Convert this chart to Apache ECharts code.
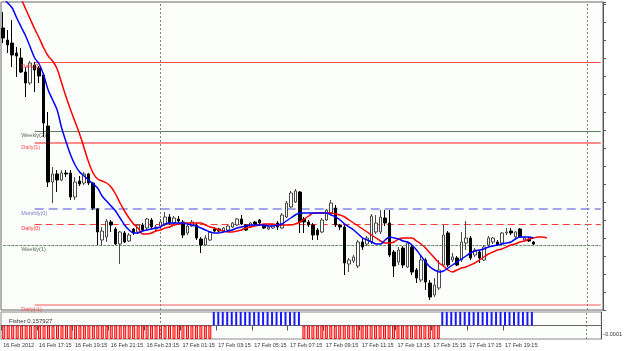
<!DOCTYPE html>
<html>
<head>
<meta charset="utf-8">
<script src="https://cdn.jsdelivr.net/npm/echarts/dist/echarts.min.js"></script>
<style>
  html, body { margin: 0; padding: 0; background: #ffffff; }
  #chart { width: 625px; height: 351px; }
</style>
</head>
<body>
<div id="chart"></div>
<script>
// M15 bars, prices in chart points (0 = bottom of price pane)
const timeLabels = ['16 Feb 2012', '16 Feb 17:15', '16 Feb 19:15', '16 Feb 21:15', '16 Feb 23:15',
  '17 Feb 01:15', '17 Feb 03:15', '17 Feb 05:15', '17 Feb 07:15', '17 Feb 09:15', '17 Feb 11:15',
  '17 Feb 13:15', '17 Feb 15:15', '17 Feb 17:15', '17 Feb 19:15'];

const opens = [282, 270, 267, 257, 252, 238, 227, 245, 242, 235,
  184, 128, 136, 130, 137, 137, 113, 129, 127, 136,
  127, 101, 70, 73, 88, 81, 66, 77, 69, 81,
  78, 85, 82, 90, 81, 84, 85, 93, 87, 91,
  88, 77, 84, 85, 71, 65, 70, 81, 81, 79,
  80, 83, 85, 91, 85, 83, 88, 90, 85, 81,
  82, 87, 82, 93, 103, 108, 118, 91, 88, 85,
  80, 78, 90, 97, 102, 85, 83, 46, 49, 44,
  68, 66, 68, 78, 78, 92, 87, 58, 48, 62,
  43, 63, 40, 30, 50, 27, 15, 22, 45, 77,
  50, 52, 50, 67, 72, 55, 58, 50, 65, 68,
  68, 67, 77, 79, 73, 81, 70, 71, 68];
const closes = [272, 265, 255, 254, 238, 227, 247, 240, 234, 187,
  128, 136, 130, 137, 136, 113, 128, 126, 136, 127,
  102, 78, 79, 89, 85, 66, 78, 68, 75, 77,
  85, 80, 91, 83, 83, 88, 93, 87, 92, 89,
  75, 84, 88, 72, 65, 72, 78, 79, 79, 82,
  84, 87, 91, 86, 80, 87, 86, 87, 82, 83,
  85, 83, 95, 107, 117, 119, 88, 88, 85, 75,
  75, 90, 100, 107, 85, 83, 47, 50, 53, 68,
  63, 72, 94, 87, 93, 87, 55, 44, 60, 45,
  67, 38, 32, 50, 28, 13, 25, 40, 75, 45,
  53, 45, 68, 72, 52, 60, 52, 63, 72, 72,
  65, 77, 78, 77, 78, 73, 72, 69, 66];
const lows = [267, 257, 243, 233, 237, 213, 225, 218, 227, 173,
  123, 107, 118, 129, 133, 110, 110, 124, 125, 125,
  100, 65, 64, 68, 78, 65, 46, 67, 68, 75,
  76, 79, 80, 81, 79, 82, 84, 85, 86, 87,
  72, 75, 83, 70, 57, 64, 69, 78, 78, 78,
  79, 82, 84, 85, 79, 82, 84, 86, 81, 80,
  81, 80, 81, 92, 102, 107, 77, 77, 83, 70,
  70, 77, 89, 95, 83, 80, 35, 38, 47, 42,
  60, 64, 66, 76, 76, 84, 53, 33, 45, 42,
  42, 35, 27, 28, 20, 10, 13, 20, 43, 43,
  48, 44, 48, 60, 50, 53, 47, 49, 63, 66,
  64, 65, 75, 75, 72, 72, 69, 68, 65];
const highs = [298, 280, 290, 263, 262, 243, 249, 248, 244, 237,
  198, 143, 140, 140, 140, 140, 133, 134, 138, 137,
  128, 102, 83, 91, 90, 83, 79, 79, 77, 82,
  86, 87, 92, 92, 85, 91, 98, 96, 94, 94,
  90, 86, 90, 87, 73, 75, 79, 83, 82, 83,
  85, 88, 92, 95, 86, 88, 89, 91, 86, 84,
  86, 89, 97, 109, 119, 121, 119, 93, 90, 87,
  82, 92, 101, 110, 105, 86, 85, 52, 55, 70,
  72, 74, 96, 95, 100, 100, 100, 60, 63, 64,
  69, 65, 42, 54, 52, 30, 32, 50, 85, 79,
  57, 54, 78, 89, 74, 62, 60, 65, 74, 73,
  70, 78, 82, 82, 79, 82, 73, 73, 69];

// moving averages as drawn on the chart (red one runs 3 bars ahead)
const blueMA = [312, 307, 302, 292, 283, 274, 263, 252, 246, 235,
  220, 210, 200, 182, 168, 155, 145, 138, 134, 130,
  126, 122, 114, 109, 104, 99, 92, 85, 80, 77,
  77, 79, 80, 81, 82, 83, 86, 87, 87, 87,
  87, 86, 85, 84, 82, 80, 78, 77, 77, 78,
  79, 80, 82, 83, 84, 85, 85, 85, 85, 84,
  84, 85, 86, 89, 92, 95, 97, 97, 97, 97,
  97, 97, 97, 95, 93, 90, 86, 83, 80, 76,
  72, 70, 68, 66, 66, 70, 73, 72, 71, 69,
  68, 65, 60, 54, 48, 43, 40, 38, 39, 42,
  45, 48, 51, 54, 57, 59, 60, 61, 63, 64,
  65, 66, 67, 68, 71, 73, 73, 73, 72];
const redMA = [350, 340, 330, 320, 311, 301, 291, 281, 272, 262,
  254, 249, 241, 227, 213, 200, 188, 176, 162, 148,
  137, 131, 129, 127, 123, 116, 107, 99, 92, 86,
  82, 76, 76, 77, 79, 80, 82, 83, 85, 86,
  87, 87, 87, 87, 87, 85, 83, 82, 80, 79,
  78, 78, 79, 80, 82, 83, 84, 85, 86, 86,
  86, 85, 85, 85, 85, 86, 88, 91, 94, 97,
  97, 97, 97, 97, 96, 95, 93, 90, 87, 84,
  81, 78, 75, 72, 69, 67, 67, 68, 71, 72,
  72, 72, 69, 66, 62, 57, 52, 47, 44, 40,
  38, 40, 42, 43, 45, 47, 50, 53, 56, 58,
  60, 61, 63, 65, 66, 68, 69, 71, 72, 73,
  73, 72];

// Fisher histogram (saturated both ways)
const fisher = [-1.5e-4, -1.5e-4, -1.5e-4, -1.5e-4, -1.5e-4, -1.5e-4, -1.5e-4, -1.5e-4, -1.5e-4, -1.5e-4,
  -1.5e-4, -1.5e-4, -1.5e-4, -1.5e-4, -1.5e-4, -1.5e-4, -1.5e-4, -1.5e-4, -1.5e-4, -1.5e-4,
  -1.5e-4, -1.5e-4, -1.5e-4, -1.5e-4, -1.5e-4, -1.5e-4, -1.5e-4, -1.5e-4, -1.5e-4, -1.5e-4,
  -1.5e-4, -1.5e-4, -1.5e-4, -1.5e-4, -1.5e-4, -1.5e-4, -1.5e-4, -1.5e-4, -1.5e-4, -1.5e-4,
  -1.5e-4, -1.5e-4, -1.5e-4, -1.5e-4, -1.5e-4, -1.5e-4, -1.5e-4, 1.5e-4, 1.5e-4, 1.5e-4,
  1.5e-4, 1.5e-4, 1.5e-4, 1.5e-4, 1.5e-4, 1.5e-4, 1.5e-4, 1.5e-4, 1.5e-4, 1.5e-4,
  1.5e-4, 1.5e-4, 1.5e-4, 1.5e-4, 1.5e-4, 1.5e-4, 1.5e-4, -1.5e-4, -1.5e-4, -1.5e-4,
  -1.5e-4, -1.5e-4, -1.5e-4, -1.5e-4, -1.5e-4, -1.5e-4, -1.5e-4, -1.5e-4, -1.5e-4, -1.5e-4,
  -1.5e-4, -1.5e-4, -1.5e-4, -1.5e-4, -1.5e-4, -1.5e-4, -1.5e-4, -1.5e-4, -1.5e-4, -1.5e-4,
  -1.5e-4, -1.5e-4, -1.5e-4, -1.5e-4, -1.5e-4, -1.5e-4, -1.5e-4, -1.5e-4, 1.5e-4, 1.5e-4,
  1.5e-4, 1.5e-4, 1.5e-4, 1.5e-4, 1.5e-4, 1.5e-4, 1.5e-4, 1.5e-4, 1.5e-4, 1.5e-4,
  1.5e-4, 1.5e-4, 1.5e-4, 1.5e-4, 1.5e-4, 1.5e-4, 1.5e-4, 1.5e-4, 1.5e-4];

// pivot levels
const levelNames = ['Daily(2)', 'Weekly(2)', 'Daily(1)', 'Monthly(0)', 'Daily(0)', 'Weekly(1)', 'Daily(-1)'];
const levelValues = [248, 179, 167, 101, 86, 65, 5];
const levelStartBar = [7, 7, 7, 7, 7, 0, 7];
const separatorBars = [35, 130];

const N = 134;
const FONT = 'Liberation Sans';

const looks = {
  'Daily(2)':   { line: { color: '#ff4d4d', width: 1, type: 'solid' }, text: '#ff3333' },
  'Weekly(2)':  { line: { color: '#5f7f5f', width: 1, type: 'solid' }, text: '#556b55' },
  'Daily(1)':   { line: { color: '#ff8c8c', width: 2, type: 'solid' }, text: '#ff4d4d' },
  'Monthly(0)': { line: { color: '#a4a4ee', width: 2, type: [9, 5] }, text: '#7a7ac4' },
  'Daily(0)':   { line: { color: '#ff3b3b', width: 1, type: [7, 4] }, text: '#ff3333' },
  'Weekly(1)':  { line: { color: '#6f8f6f', width: 1, type: [3, 1] }, text: '#556b55' },
  'Daily(-1)':  { line: { color: '#ffabab', width: 2, type: 'solid' }, text: '#ff4d4d' }
};

const cats = Array.from({ length: N }, (_, i) => String(i));
const sepStyle = { color: '#808080', width: 1, type: [2, 2] };

const levelLines = levelValues.map((v, i) => [
  { coord: [levelStartBar[i], v], lineStyle: looks[levelNames[i]].line },
  { coord: [N - 1, v] }
]);
const sepLines = separatorBars.map(b => ({ xAxis: b, lineStyle: sepStyle }));

// names sit just under each level, a little left of where the line starts
const levelTags = levelValues.map((v, i) => ({
  name: levelNames[i],
  coord: [4, v],
  label: { color: looks[levelNames[i]].text }
}));

// split histogram by sign so the two colours can get their own bar look
const fisherDown = fisher.map(v => (v < 0 ? v : '-'));
const fisherUp = fisher.map(v => (v > 0 ? v : '-'));

const chart = echarts.init(document.getElementById('chart'));

const option = {
  animation: false,
  backgroundColor: '#ffffff',
  textStyle: { fontFamily: FONT },
  title: {
    text: 'Fisher 0.157927', left: 4, top: 313,
    textStyle: { fontSize: 6, fontWeight: 'normal', color: '#333333', fontFamily: FONT }
  },
  grid: [
    { left: 1, right: 22, top: 2, height: 308, show: true, backgroundColor: '#fcfefb', borderColor: '#666666', borderWidth: 1 },
    { left: 1, right: 22, top: 312, height: 27, show: true, backgroundColor: '#fcfefb', borderColor: '#8a8a8a', borderWidth: 1 }
  ],
  xAxis: [
    {
      type: 'category', gridIndex: 0, data: cats, boundaryGap: true,
      axisLine: { show: false }, axisTick: { show: false }, axisLabel: { show: false }, splitLine: { show: false }
    },
    {
      type: 'category', gridIndex: 1, data: cats, boundaryGap: true,
      axisLine: { show: true, lineStyle: { color: '#666666' } },
      axisTick: {
        show: true, length: 5, lineStyle: { color: '#555555' },
        interval: (idx) => idx % 8 === 0 && idx / 8 < timeLabels.length
      },
      axisLabel: {
        interval: (idx) => idx % 8 === 0 && idx / 8 < timeLabels.length,
        formatter: (val, idx) => timeLabels[idx / 8] || '',
        align: 'left', margin: 3, fontSize: 5.5, color: '#333333', fontFamily: FONT
      },
      splitLine: { show: false }
    }
  ],
  yAxis: [
    {
      type: 'value', gridIndex: 0, position: 'right', min: 0, max: 308, interval: 18,
      axisLine: { show: true, lineStyle: { color: '#555555' } },
      axisTick: { show: true, length: 3, lineStyle: { color: '#555555' } },
      axisLabel: { show: false }, splitLine: { show: false }
    },
    {
      type: 'value', gridIndex: 1, position: 'right', min: -0.00015, max: 0.00015, interval: 0.00005,
      axisLine: { show: true, lineStyle: { color: '#555555' } },
      axisTick: { show: false },
      axisLabel: {
        formatter: v => (Math.abs(v + 0.0001) < 1e-9 ? '-0.0001' : ''),
        fontSize: 5.5, margin: 2, color: '#333333', fontFamily: FONT
      },
      splitLine: { show: false }
    }
  ],
  series: [
    {
      name: 'price', type: 'candlestick', xAxisIndex: 0, yAxisIndex: 0, z: 2, silent: true,
      barWidth: 3,
      data: opens.map((o, i) => [o, closes[i], lows[i], highs[i]]),
      itemStyle: { color: '#ffffff', color0: '#000000', borderColor: '#4a4a4a', borderColor0: '#000000', borderWidth: 1 },
      markLine: {
        silent: true, symbol: 'none', label: { show: false }, z: 1,
        data: levelLines.concat(sepLines)
      }
    },
    {
      name: 'slow', type: 'line', xAxisIndex: 0, yAxisIndex: 0, z: 3, silent: true,
      data: redMA, showSymbol: false, smooth: 0.3,
      lineStyle: { color: '#ff0000', width: 1.5 }
    },
    {
      name: 'fast', type: 'line', xAxisIndex: 0, yAxisIndex: 0, z: 3, silent: true,
      data: blueMA, showSymbol: false, smooth: 0.3,
      lineStyle: { color: '#0000ff', width: 1.5 },
      markPoint: {
        silent: true, symbol: 'circle', symbolSize: 0.1,
        itemStyle: { color: 'rgba(0,0,0,0)' },
        label: {
          show: true, position: [0, 2], align: 'left', verticalAlign: 'top',
          formatter: p => p.name, fontSize: 5.5, fontFamily: FONT
        },
        data: levelTags
      }
    },
    {
      name: 'Fisher down', type: 'bar', xAxisIndex: 1, yAxisIndex: 1, silent: true,
      barWidth: 3, barGap: '-100%', data: fisherDown,
      itemStyle: { color: '#ffb3b3', borderColor: '#ff0000', borderWidth: 1 },
      markLine: {
        silent: true, symbol: 'none', label: { show: false },
        data: sepLines
      }
    },
    {
      name: 'Fisher up', type: 'bar', xAxisIndex: 1, yAxisIndex: 1, silent: true,
      barWidth: 2, barGap: '-100%', data: fisherUp,
      itemStyle: { color: '#1a1aff' }
    }
  ]
};

chart.setOption(option);
</script>
</body>
</html>
